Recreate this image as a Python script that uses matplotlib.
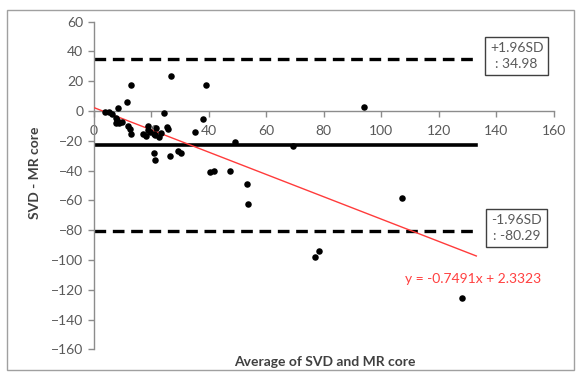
import numpy as np
import matplotlib
matplotlib.use("Agg")
import matplotlib.pyplot as plt
from matplotlib.patches import Rectangle

plt.rcParams['font.family'] = ['Lato', 'DejaVu Sans']

# average of SVD and MR core (x) vs difference (y)
avg = [27.0, 12.8, 38.9, 11.5, 8.3, 3.9, 6.2, 8.0, 8.9, 9.7, 7.7, 12.0, 12.6, 12.8,
       17.2, 18.1, 18.8, 18.9, 20.9, 21.8, 22.7, 23.5, 24.4, 25.5, 25.8, 35.1, 37.9,
       20.9, 21.2, 26.6, 29.3, 30.4, 40.5, 41.7, 47.5, 53.3, 53.7, 78.3, 76.9, 127.9,
       107.1, 93.9, 49.1, 69.3, 7.6, 19.5, 21.2, 5.3]
diff = [23.5, 17.2, 17.2, 6.0, 1.7, -0.9, -2.0, -6.0, -7.9, -7.2, -8.3, -10.1, -12.1, -15.4,
        -15.4, -16.8, -9.9, -12.8, -15.4, -11.6, -17.7, -15.0, -1.5, -10.5, -12.1, -13.9, -5.4,
        -28.4, -33.1, -30.0, -26.8, -28.2, -41.1, -40.3, -40.3, -48.8, -62.6, -93.8, -98.2, -125.3,
        -58.6, 2.7, -21.0, -23.3, -4.5, -13.9, -16.1, -0.7]

upper_loa = 34.98
lower_loa = -80.29
mean_diff = (upper_loa + lower_loa) / 2
slope = -0.7491
intercept = 2.3323
line_end = 133

fig = plt.figure(figsize=(5.81, 3.76), dpi=100)
ax = fig.add_axes([0.1613, 0.0707, 0.7922, 0.8719])

# outer chart border
fig.patches.append(Rectangle((7 / 581, 6 / 376), 567 / 581, 360 / 376, transform=fig.transFigure,
                             fill=False, edgecolor='#a0a0a0', linewidth=1))

gray = '#8c8c8c'
txt = '#595959'

ax.plot([0, line_end], [mean_diff, mean_diff], color='black', lw=2.6, zorder=2)
for v in (upper_loa, lower_loa):
    ax.plot([0, line_end], [v, v], color='black', lw=2.4, dashes=(3.5, 2), zorder=2)

xs = np.array([0, line_end])
ax.plot(xs, slope * xs + intercept, color='#ff3b3b', lw=1, zorder=3)

ax.scatter(avg, diff, s=22, color='black', zorder=4, linewidths=0)

ax.set_xlim(0, 160)
ax.set_ylim(-160, 60)
ax.set_xticks(np.arange(0, 161, 20))
ax.set_yticks(np.arange(-160, 61, 20))

ax.spines['top'].set_visible(False)
ax.spines['right'].set_visible(False)
ax.spines['bottom'].set_position(('data', 0))
for s in ('left', 'bottom'):
    ax.spines[s].set_color(gray)
    ax.spines[s].set_linewidth(1)
ax.tick_params(axis='both', colors=gray, labelcolor=txt, labelsize=10, length=4, width=1)
ax.tick_params(axis='x', pad=6)

ax.set_ylabel('SVD - MR core', fontsize=10, fontweight='bold', color='#404040')
ax.yaxis.set_label_coords(-0.115, 0.54)
fig.text(0.559, 0.037, 'Average of SVD and MR core', fontsize=10, fontweight='bold',
         color='#404040', ha='center', va='center')

box = dict(boxstyle='square,pad=0.35', facecolor='white', edgecolor='#404040', linewidth=1)
ax.text(147, 37, '+1.96SD\n: 34.98', fontsize=10, color=txt, ha='center', va='center',
        bbox=box, linespacing=1.4, clip_on=False)
ax.text(147, -78.5, '-1.96SD\n: -80.29', fontsize=10, color=txt, ha='center', va='center',
        bbox=box, linespacing=1.4, clip_on=False)
ax.text(132, -112.8, 'y = -0.7491x + 2.3323', fontsize=10, color='#ff4040',
        ha='center', va='center', clip_on=False)

fig.savefig('out.png', dpi=100)
